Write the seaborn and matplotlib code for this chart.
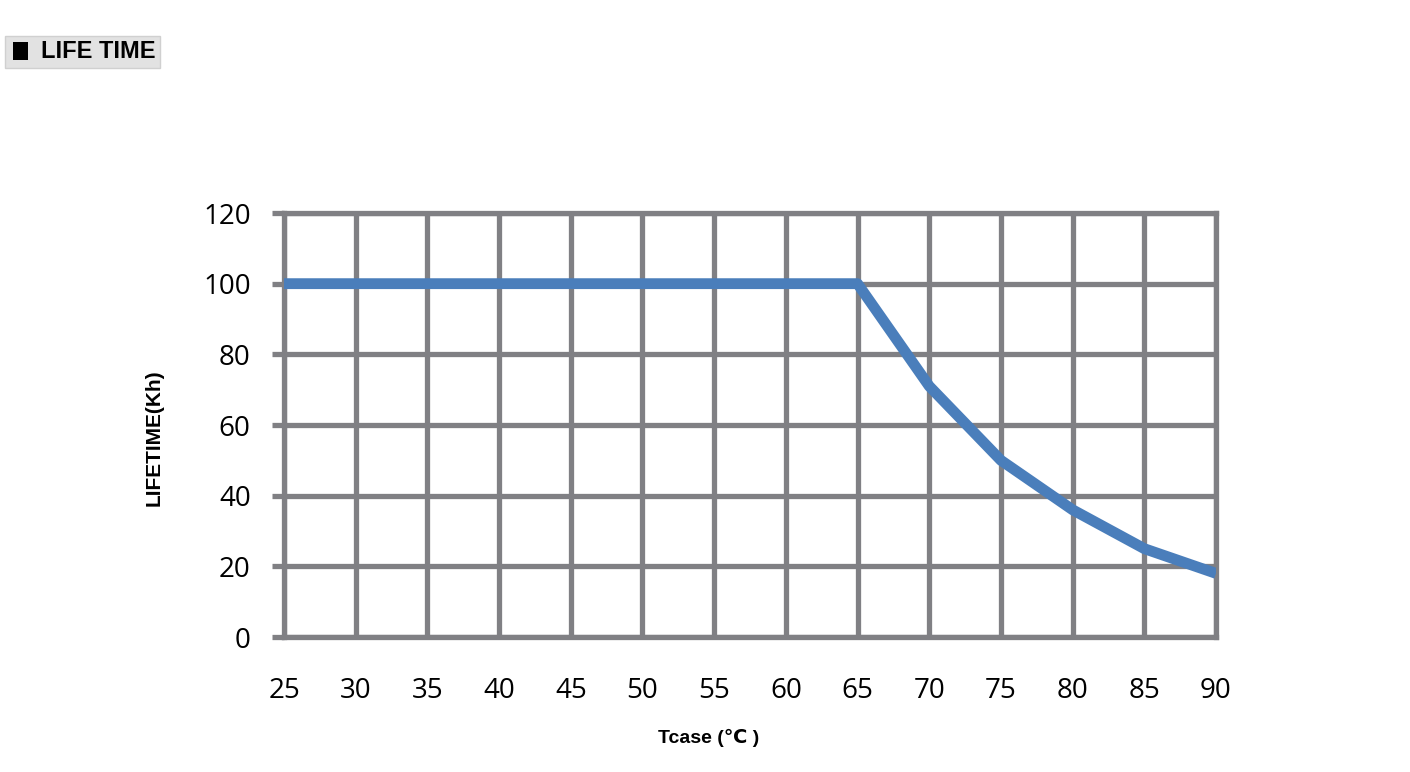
import pandas as pd
import matplotlib.pyplot as plt
import seaborn as sns
from matplotlib.patches import Rectangle

# chart data
tcase = [25, 30, 35, 40, 45, 50, 55, 60, 65, 70, 75, 80, 85, 90]
lifetime = [100, 100, 100, 100, 100, 100, 100, 100, 100, 71, 50, 36, 25, 18]
x_ticks = list(range(25, 91, 5))
y_ticks = [0, 20, 40, 60, 80, 100, 120]

df = pd.DataFrame({"Tcase": tcase, "Lifetime": lifetime})

sns.set_style("white")
plt.rcParams["font.family"] = ["Open Sans", "DejaVu Sans"]
plt.rcParams["text.color"] = "black"
plt.rcParams["axes.labelcolor"] = "black"
plt.rcParams["xtick.color"] = "black"
plt.rcParams["ytick.color"] = "black"

W, H = 1410, 772
grid_col = "#808084"
fig = plt.figure(figsize=(W / 100, H / 100), dpi=100)
ax = fig.add_axes([284 / W, 1 - 637 / H, (1216 - 284) / W, (637 - 213) / H])

sns.lineplot(data=df, x="Tcase", y="Lifetime", ax=ax, color="#4a7ebb",
             linewidth=7.8, solid_capstyle="butt", solid_joinstyle="round",
             zorder=5)

ax.set_xlim(25, 90)
ax.set_ylim(0, 120)
ax.set_xticks(x_ticks)
ax.set_yticks(y_ticks)
ax.grid(True, color=grid_col, linewidth=3.8)
ax.set_axisbelow(True)
for s in ax.spines.values():
    s.set_visible(True)
    s.set_color(grid_col)
    s.set_linewidth(3.8)

ax.tick_params(axis="y", length=9, width=3.8, color=grid_col, pad=15,
               labelsize=20, direction="out", left=True, labelcolor="black")
ax.tick_params(axis="x", length=0, pad=29, labelsize=20, labelcolor="black")

bold = ["Liberation Sans Narrow", "Liberation Sans", "DejaVu Sans"]
ax.set_xlabel("Tcase (℃ )", fontsize=14, fontweight="bold", family=bold, color="black")
ax.set_ylabel("LIFETIME(Kh)", fontsize=15, fontweight="bold", family=bold, color="black")
ax.xaxis.set_label_coords((709 - 284) / 932, (637 - 729) / 424)
ax.yaxis.set_label_coords((164 - 284) / 932, (637 - 438) / 424)

# title tag in the top-left corner
fig.patches.append(Rectangle((5 / W, 1 - 68 / H), 155 / W, 32 / H,
                             transform=fig.transFigure, facecolor="#e2e2e2",
                             edgecolor="#d0d0d0", linewidth=1))
fig.patches.append(Rectangle((13 / W, 1 - 60 / H), 15 / W, 18 / H,
                             transform=fig.transFigure, facecolor="black",
                             edgecolor="none"))
fig.text(41 / W, 1 - 52 / H, "LIFE TIME", fontsize=17, fontweight="bold",
         family=bold, va="center", ha="left")

fig.savefig("out.png", dpi=100)
